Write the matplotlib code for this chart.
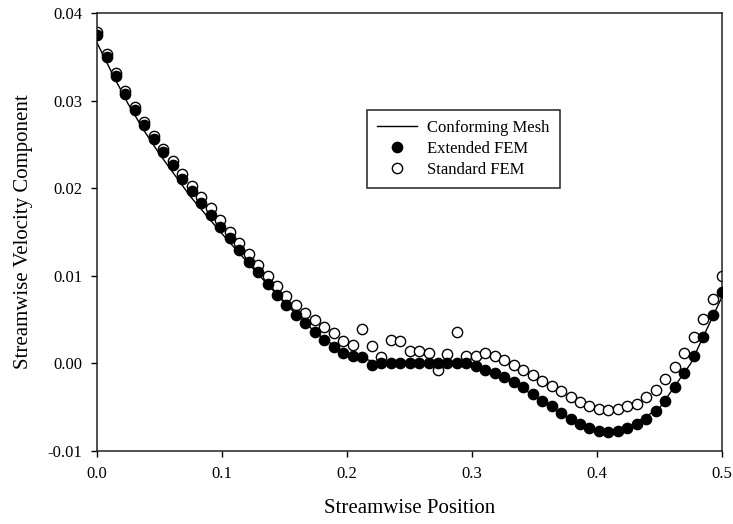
import matplotlib
matplotlib.use("Agg")
import matplotlib.pyplot as plt
from matplotlib.ticker import FormatStrFormatter, FixedLocator

plt.rcParams['font.family'] = ['Liberation Serif', 'DejaVu Serif']

# Node positions (streamwise position)
x_nodes = [0.0000, 0.0076, 0.0152, 0.0227, 0.0303, 0.0379, 0.0455, 0.0530, 0.0606, 0.0682,
           0.0758, 0.0833, 0.0909, 0.0985, 0.1061, 0.1136, 0.1212, 0.1288, 0.1364, 0.1439,
           0.1515, 0.1591, 0.1667, 0.1742, 0.1818, 0.1894, 0.1970, 0.2045, 0.2121, 0.2197,
           0.2273, 0.2348, 0.2424, 0.2500, 0.2576, 0.2652, 0.2727, 0.2803, 0.2879, 0.2955,
           0.3030, 0.3106, 0.3182, 0.3258, 0.3333, 0.3409, 0.3485, 0.3561, 0.3636, 0.3712,
           0.3788, 0.3864, 0.3939, 0.4015, 0.4091, 0.4167, 0.4242, 0.4318, 0.4394, 0.4470,
           0.4545, 0.4621, 0.4697, 0.4773, 0.4848, 0.4924, 0.5000]

extended_fem = [0.0375, 0.0350, 0.0328, 0.0308, 0.0289, 0.0272, 0.0256, 0.0241, 0.0226, 0.0211,
                0.0197, 0.0183, 0.0169, 0.0156, 0.0143, 0.0129, 0.0116, 0.0104, 0.0091, 0.0078,
                0.0067, 0.0055, 0.0046, 0.0036, 0.0027, 0.0019, 0.0012, 0.0008, 0.0007, -0.0002,
                0.0000, 0.0000, 0.0000, 0.0000, 0.0000, 0.0000, 0.0000, 0.0000, 0.0000, 0.0000,
                -0.0003, -0.0007, -0.0011, -0.0015, -0.0021, -0.0027, -0.0035, -0.0043, -0.0049, -0.0057,
                -0.0064, -0.0069, -0.0074, -0.0077, -0.0078, -0.0077, -0.0074, -0.0069, -0.0063, -0.0054,
                -0.0043, -0.0027, -0.0011, 0.0008, 0.0030, 0.0055, 0.0082]

standard_fem = [0.0378, 0.0353, 0.0331, 0.0311, 0.0293, 0.0276, 0.0260, 0.0245, 0.0231, 0.0216,
                0.0203, 0.0190, 0.0177, 0.0164, 0.0150, 0.0137, 0.0125, 0.0112, 0.0100, 0.0088,
                0.0077, 0.0067, 0.0058, 0.0049, 0.0042, 0.0035, 0.0026, 0.0021, 0.0039, 0.0020,
                0.0007, 0.0027, 0.0026, 0.0014, 0.0014, 0.0012, -0.0008, 0.0011, 0.0036, 0.0009,
                0.0008, 0.0012, 0.0008, 0.0004, -0.0002, -0.0007, -0.0013, -0.0020, -0.0026, -0.0032,
                -0.0038, -0.0044, -0.0049, -0.0052, -0.0053, -0.0052, -0.0049, -0.0046, -0.0038, -0.0030,
                -0.0018, -0.0004, 0.0012, 0.0030, 0.0051, 0.0074, 0.0100]

# Conforming mesh reference curve
x_conf = [0.0, 0.0125, 0.025, 0.0375, 0.05, 0.075, 0.1, 0.125, 0.15, 0.175, 0.2, 0.225,
          0.25, 0.275, 0.3, 0.325, 0.35, 0.375, 0.4, 0.41, 0.425, 0.45, 0.475, 0.5]
conforming = [0.0366, 0.0330, 0.0296, 0.0266, 0.0239, 0.0190, 0.0148, 0.0108, 0.0069, 0.0035,
              0.0010, 0.0001, 0.0000, 0.0000, -0.0002, -0.0016, -0.0037, -0.0061, -0.0076, -0.0078,
              -0.0073, -0.0051, 0.0000, 0.0076]

x_ticks = [0.0, 0.1, 0.2, 0.3, 0.4, 0.5]
y_ticks = [-0.01, 0.00, 0.01, 0.02, 0.03, 0.04]

fig = plt.figure(figsize=(7.33, 5.24), dpi=100)
ax = fig.add_axes([97/733, 1 - 451/524, 625/733, 438/524])

ax.plot(x_conf, conforming, color='black', lw=1.0, zorder=1, label='Conforming Mesh')
ax.plot(x_nodes, standard_fem, ls='none', marker='o', ms=7.4, mfc='white', mec='black',
        mew=1.0, zorder=2, label='Standard FEM')
ax.plot(x_nodes, extended_fem, ls='none', marker='o', ms=7.4, mfc='black', mec='black',
        mew=1.0, zorder=3, label='Extended FEM')

ax.set_xlim(0, 0.5)
ax.set_ylim(-0.01, 0.04)
ax.xaxis.set_major_locator(FixedLocator(x_ticks))
ax.yaxis.set_major_locator(FixedLocator(y_ticks))
ax.xaxis.set_major_formatter(FormatStrFormatter('%.1f'))
ax.yaxis.set_major_formatter(FormatStrFormatter('%.2f'))
ax.tick_params(direction='out', length=4.5, width=1.0, labelsize=12, pad=6,
               top=False, right=False)

for s in ax.spines.values():
    s.set_linewidth(1.1)
    s.set_color('#222222')

ax.set_xlabel('Streamwise Position', fontsize=15)
ax.set_ylabel('Streamwise Velocity Component', fontsize=15)
ax.xaxis.set_label_coords(0.5, -0.11)
ax.yaxis.set_label_coords(-0.102, 0.5)

handles, labels = ax.get_legend_handles_labels()
order = [0, 2, 1]
leg = ax.legend([handles[i] for i in order], [labels[i] for i in order],
                loc='upper left', bbox_to_anchor=(0.419, 0.797), fontsize=12,
                frameon=True, fancybox=False, shadow=False, framealpha=1,
                edgecolor='#222222', handlelength=2.4, handletextpad=0.6,
                labelspacing=0.3, borderpad=0.6, numpoints=1)
leg.get_frame().set_linewidth(1.1)

fig.savefig('out.png', dpi=100)
